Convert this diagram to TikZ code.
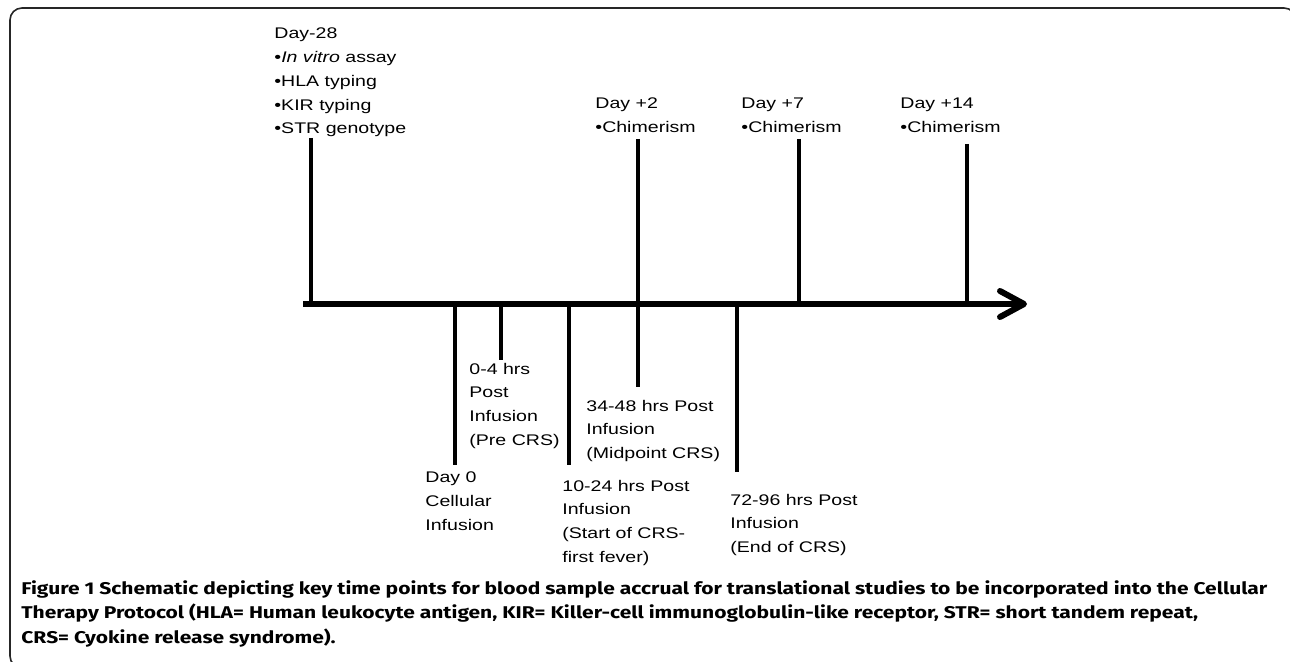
\documentclass[tikz,border=0pt]{standalone}
\usepackage{fontspec}
\setmainfont{Liberation Sans}
\newfontfamily\lblfont[FakeStretch=1.27]{Liberation Sans}
\newfontfamily\capfont[FakeStretch=1.235]{Fira Sans}
\usetikzlibrary{arrows.meta}

\tikzset{
  lbl/.style={anchor=north west, inner sep=0pt, align=left,
    font=\lblfont\fontsize{7.7}{11.9}\selectfont},
  tickline/.style={line width=1.7pt, line cap=butt},
  axisline/.style={line width=3pt, -{Straight Barb[length=12pt,width=13pt,line cap=round,line join=round]}},
}

\begin{document}
\begin{tikzpicture}[x=0.5pt,y=-0.5pt]
\useasboundingbox (0,0) rectangle (1290,662);

%% frame (right and bottom edges lie outside the page)
\draw[line width=0.8pt, rounded corners=6pt, black!85] (10,8) rectangle (1296,668);

%% points on the time axis
\coordinate (start) at (303,304);
\coordinate (stop)  at (1027,304);
\coordinate (a28) at (311,304);   %% day -28
\coordinate (a0)  at (455,304);   %% day 0
\coordinate (a4)  at (501,304);   %% 0-4 hrs
\coordinate (a24) at (569,304);   %% 10-24 hrs
\coordinate (a2)  at (638,304);   %% day +2 / 34-48 hrs
\coordinate (a96) at (737,304);   %% 72-96 hrs
\coordinate (a7)  at (799,304);   %% day +7
\coordinate (a14) at (967,304);   %% day +14

%% free ends of the ticks
\coordinate (e28) at (311,138);
\coordinate (e2)  at (638,139);
\coordinate (e7)  at (799,139);
\coordinate (e14) at (967,144);
\coordinate (e0)  at (455,465);
\coordinate (e4)  at (501,360);
\coordinate (e24) at (569,465);
\coordinate (e48) at (638,387);
\coordinate (e96) at (737,472);

%% labels above
\node[lbl] (d28) at (274,27.5) {Day-28\\•\textit{In vitro} assay\\•HLA typing\\•KIR typing\\•STR genotype};
\node[lbl] (d2)  at (595,97.5) {Day +2\\•Chimerism};
\node[lbl] (d7)  at (741,97.5) {Day +7\\•Chimerism};
\node[lbl] (d14) at (900,97.5) {Day +14\\•Chimerism};

%% labels below
\node[lbl] (h4)  at (469,362.5) {0-4 hrs\\Post\\Infusion\\(Pre CRS)};
\node[lbl] (h48) at (586,399.5) {34-48 hrs Post\\Infusion\\(Midpoint CRS)};
\node[lbl] (d0)  at (425,471.5) {Day 0\\Cellular\\Infusion};
\node[lbl] (h24) at (562,479.5) {10-24 hrs Post\\Infusion\\(Start of CRS-\\first fever)};
\node[lbl] (h96) at (730,493.5) {72-96 hrs Post\\Infusion\\(End of CRS)};

%% ticks
\draw[tickline] (e28) -- (a28);
\draw[tickline] (e2) -- (e48);
\draw[tickline] (e7) -- (a7);
\draw[tickline] (e14) -- (a14);
\draw[tickline] (a0) -- (e0);
\draw[tickline] (a4) -- (e4);
\draw[tickline] (a24) -- (e24);
\draw[tickline] (a96) -- (e96);

%% time axis
\draw[axisline] (start) -- (stop);

%% caption
\node[anchor=north west, inner sep=0pt, align=left,
  font=\capfont\bfseries\fontsize{8.5}{12.25}\selectfont] (cap) at (21,580)
  {Figure 1 Schematic depicting key time points for blood sample accrual for translational studies to be incorporated into the Cellular\\
   Therapy Protocol (HLA= Human leukocyte antigen, KIR= Killer-cell immunoglobulin-like receptor, STR= short tandem repeat,\\
   CRS= Cyokine release syndrome).};
\end{tikzpicture}
\end{document}
